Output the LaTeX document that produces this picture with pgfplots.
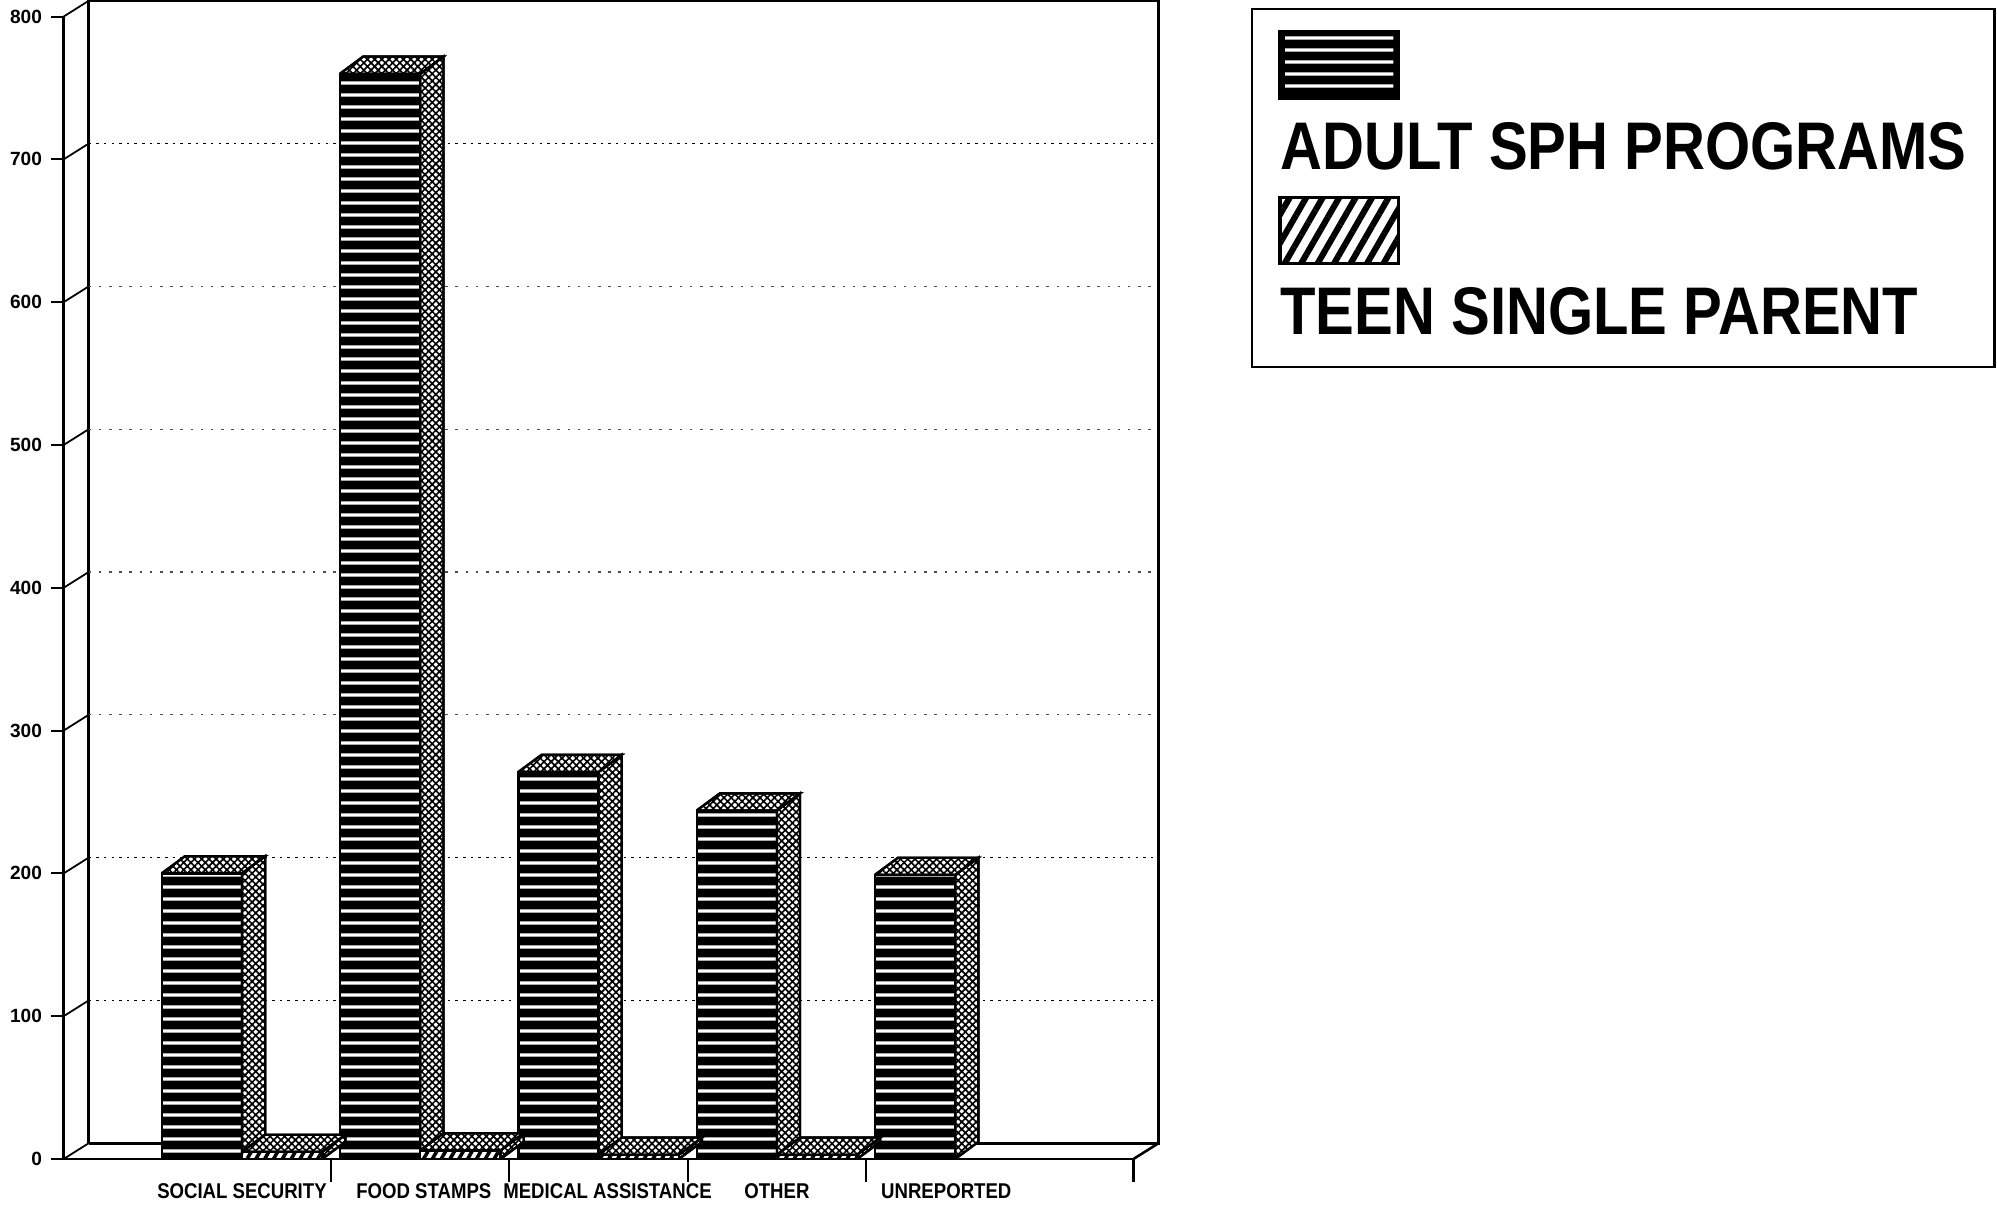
\documentclass[border=0pt]{standalone}
\usepackage{fontspec}
\setmainfont{Liberation Sans}
\usepackage{graphicx}
\usepackage{pgfplots}
\pgfplotsset{compat=1.18}
\usetikzlibrary{patterns.meta}

\pgfdeclarepattern{
  name=hstripes,
  type=uncolored,
  bottom left={\pgfpoint{0pt}{0pt}},
  top right={\pgfpoint{400pt}{4.7pt}},
  tile size={\pgfpoint{400pt}{4.7pt}},
  code={
    \pgfpathrectangle{\pgfpoint{0pt}{1.7pt}}{\pgfpoint{400pt}{1.3pt}}
    \pgfusepath{fill}
  }
}

\tikzset{
  adultfront/.style={draw=black, line width=0.9pt, fill=black,
    postaction={pattern color=white, pattern=hstripes}},
  face/.style={draw=black, line width=0.9pt, fill=white,
    postaction={pattern color=black, pattern={Hatch[angle=45,distance=2pt,line width=0.65pt]}}},
  teenfront/.style={draw=black, line width=0.9pt, fill=white,
    postaction={pattern color=black, pattern={Lines[angle=60,distance=3pt,line width=1.4pt]}}},
}

\begin{document}
\begin{tikzpicture}
\useasboundingbox (-25pt,-18pt) rectangle (759pt,455pt);
\begin{axis}[
  at={(0pt,0pt)}, anchor=south west,
  scale only axis, width=420pt, height=448.5pt,
  xmin=0, xmax=6, ymin=0, ymax=800,
  clip=false,
  axis x line*=bottom, axis y line*=left,
  axis line style={line width=1.1pt, -},
  tick align=outside,
  major tick length=9pt,
  tick style={black, line width=0.8pt},
  xtick={1.5,2.5,3.5,4.5,6}, xticklabels={},
  extra x ticks={1,2.02,3.05,4,4.95},
  extra x tick labels={\scalebox{1}[1.15]{SOCIAL SECURITY}, \scalebox{1}[1.15]{FOOD STAMPS}, \scalebox{1}[1.15]{MEDICAL ASSISTANCE}, \scalebox{1}[1.15]{OTHER}, \scalebox{1}[1.15]{UNREPORTED}},
  extra x tick style={major tick length=0pt, tick label style={font=\bfseries\fontsize{7.3}{8}\selectfont, yshift=-6pt}},
  ytick=\empty,
  extra y ticks={0,100,200,300,400,500,600,700,800},
  extra y tick style={major tick length=5pt, tick label style={font=\bfseries\fontsize{7.5}{8}\selectfont}},
  /pgf/number format/assume math mode=true,
  no markers,
]
% back wall and floor
\addplot[black, line width=1.1pt] coordinates {(0.14,11) (0.14,811) (6.14,811) (6.14,11) (0.14,11)};
\addplot[black, line width=1pt] coordinates {(6,0) (6.14,11)};
% tick connectors
\addplot[black, line width=0.7pt, unbounded coords=jump] coordinates {
 (0,0) (0.14,11) (nan,nan)
 (0,100) (0.14,111) (nan,nan)
 (0,200) (0.14,211) (nan,nan)
 (0,300) (0.14,311) (nan,nan)
 (0,400) (0.14,411) (nan,nan)
 (0,500) (0.14,511) (nan,nan)
 (0,600) (0.14,611) (nan,nan)
 (0,700) (0.14,711) (nan,nan)
 (0,800) (0.14,811)};
% gridlines on back wall
\addplot[black, line width=0.6pt, dash pattern=on 1pt off 2pt, unbounded coords=jump] coordinates {
 (0.14,111) (6.14,111) (nan,nan)
 (0.14,211) (6.14,211) (nan,nan)
 (0.14,711) (6.14,711)};
\addplot[black!70, line width=0.5pt, dash pattern=on 1pt off 3pt, unbounded coords=jump] coordinates {
 (0.14,311) (6.14,311) (nan,nan)
 (0.14,411) (6.14,411) (nan,nan)
 (0.14,511) (6.14,511) (nan,nan)
 (0.14,611) (6.14,611)};

% ADULT SPH PROGRAMS: front faces
\addplot[ybar, bar width=0.45, bar shift=0pt, adultfront] coordinates {
 (0.775,200) (1.775,760) (2.775,271) (3.775,244) (4.775,199)};
% side and top faces
\addplot[face] coordinates {(1.0,0) (1.13,12) (1.13,212) (1.0,200) (1.0,0)};
\addplot[face] coordinates {(0.55,200) (0.68,212) (1.13,212) (1.0,200) (0.55,200)};
\addplot[face] coordinates {(2.0,0) (2.13,12) (2.13,772) (2.0,760) (2.0,0)};
\addplot[face] coordinates {(1.55,760) (1.68,772) (2.13,772) (2.0,760) (1.55,760)};
\addplot[face] coordinates {(3.0,0) (3.13,12) (3.13,283) (3.0,271) (3.0,0)};
\addplot[face] coordinates {(2.55,271) (2.68,283) (3.13,283) (3.0,271) (2.55,271)};
\addplot[face] coordinates {(4.0,0) (4.13,12) (4.13,256) (4.0,244) (4.0,0)};
\addplot[face] coordinates {(3.55,244) (3.68,256) (4.13,256) (4.0,244) (3.55,244)};
\addplot[face] coordinates {(5.0,0) (5.13,12) (5.13,211) (5.0,199) (5.0,0)};
\addplot[face] coordinates {(4.55,199) (4.68,211) (5.13,211) (5.0,199) (4.55,199)};

% TEEN SINGLE PARENT
\addplot[face] coordinates {(1.45,0) (1.58,12) (1.58,17) (1.45,5) (1.45,0)};
\addplot[face] coordinates {(1.0,5) (1.13,17) (1.58,17) (1.45,5) (1.0,5)};
\addplot[face] coordinates {(2.45,0) (2.58,12) (2.58,18) (2.45,6) (2.45,0)};
\addplot[face] coordinates {(2.0,6) (2.13,18) (2.58,18) (2.45,6) (2.0,6)};
\addplot[face] coordinates {(3.45,0) (3.58,12) (3.58,15) (3.45,3) (3.45,0)};
\addplot[face] coordinates {(3.0,3) (3.13,15) (3.58,15) (3.45,3) (3.0,3)};
\addplot[face] coordinates {(4.45,0) (4.58,12) (4.58,15) (4.45,3) (4.45,0)};
\addplot[face] coordinates {(4.0,3) (4.13,15) (4.58,15) (4.45,3) (4.0,3)};
\addplot[ybar, bar width=0.45, bar shift=0pt, teenfront] coordinates {
 (1.225,5) (2.225,6) (3.225,3) (4.225,3)};
\end{axis}

% legend
\draw[line width=1pt] (466.5pt,311pt) rectangle (758pt,451.5pt);
\fill[black] (477.5pt,416.5pt) rectangle (524pt,442.5pt);
\fill[pattern color=white, pattern=hstripes] (479.5pt,418.5pt) rectangle (522pt,440.5pt);
\draw[line width=1.2pt] (477.5pt,416.5pt) rectangle (524pt,442.5pt);
\node[anchor=base west, inner sep=0pt] at (477.5pt,388.5pt) {\scalebox{1}[1.16]{\bfseries\fontsize{22.8}{24}\selectfont ADULT SPH PROGRAMS}};
\fill[white] (477.5pt,351.5pt) rectangle (524pt,377.5pt);
\fill[pattern color=black, pattern={Lines[angle=60,distance=5.6pt,line width=2.4pt]}] (477.5pt,351.5pt) rectangle (524pt,377.5pt);
\draw[line width=1.2pt] (477.5pt,351.5pt) rectangle (524pt,377.5pt);
\node[anchor=base west, inner sep=0pt] at (477.5pt,323.5pt) {\scalebox{1}[1.16]{\bfseries\fontsize{22.8}{24}\selectfont TEEN SINGLE PARENT}};
\end{tikzpicture}
\end{document}
